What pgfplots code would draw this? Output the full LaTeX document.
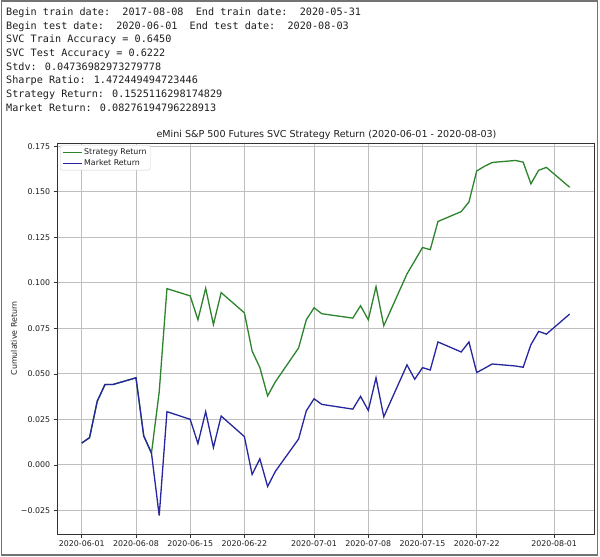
\documentclass[border=0pt]{standalone}
\usepackage{pgfplots}
\pgfplotsset{compat=1.18}
\usepackage{fontspec}
\setmainfont{DejaVu Sans}
\newfontfamily\monofont{DejaVu Sans Mono}
\definecolor{strat}{RGB}{45,132,45}
\definecolor{mkt}{RGB}{38,38,158}
\definecolor{txt}{RGB}{30,30,30}

\pgfplotstableread{
d v
0 0.0120
1 0.0149
2 0.0350
3 0.0441
4 0.0441
7 0.0478
8 0.0159
9 0.0064
10 -0.0279
11 0.0292
14 0.0250
15 0.0117
16 0.0292
17 0.0095
18 0.0268
21 0.0155
22 -0.0053
23 0.0033
24 -0.0119
25 -0.0036
28 0.0142
29 0.0297
30 0.0363
31 0.0332
35 0.0306
36 0.0376
37 0.0299
38 0.0478
39 0.0264
42 0.0549
43 0.0470
44 0.0534
45 0.0521
46 0.0675
49 0.0620
50 0.0675
51 0.0507
52 0.0530
53 0.0554
56 0.0543
57 0.0536
58 0.0660
59 0.0733
60 0.0718
63 0.0828
}\market

\pgfplotstableread{
d v
0 0.0120
1 0.0149
2 0.0350
3 0.0441
4 0.0441
7 0.0478
8 0.0159
9 0.0064
10 0.0401
11 0.0968
14 0.0928
15 0.0797
16 0.0970
17 0.0771
18 0.0946
21 0.0835
22 0.0625
23 0.0534
24 0.0379
25 0.0456
28 0.0642
29 0.0797
30 0.0863
31 0.0830
35 0.0806
36 0.0874
37 0.0797
38 0.0979
39 0.0764
42 0.1049
43 0.1121
44 0.1194
45 0.1182
46 0.1337
49 0.1391
50 0.1444
51 0.1614
52 0.1640
53 0.1661
56 0.1672
57 0.1663
58 0.1544
59 0.1618
60 0.1634
63 0.1525
}\strategy

\begin{document}
\begin{tikzpicture}
\useasboundingbox (0,0) rectangle (600bp,557bp);
\fill[white] (0,0) rectangle (600bp,557bp);
\draw[black!55, line width=1.5bp] (1.7bp,2bp) rectangle (597.3bp,556bp);

% header text
\begin{scope}[every node/.style={anchor=base west, inner sep=0pt, font=\monofont\fontsize{10.2}{12}\selectfont, text=txt}]
\node at (6bp,541.3bp) {Begin train date:~~2017-08-08~~End train date:~~2020-05-31};
\node at (6bp,527.67bp) {Begin test date:~~2020-06-01~~End test date:~~2020-08-03};
\node at (6bp,514.04bp) {SVC Train Accuracy = 0.6450};
\node at (6bp,500.41bp) {SVC Test Accuracy = 0.6222};
\node at (6bp,486.78bp) {Stdv: 0.04736982973279778};
\node at (6bp,473.15bp) {Sharpe Ratio: 1.472449494723446};
\node at (6bp,459.52bp) {Strategy Return: 0.1525116298174829};
\node at (6bp,445.89bp) {Market Return: 0.08276194796228913};
\end{scope}

\node[anchor=base, inner sep=0pt, font=\fontsize{9.6}{11}\selectfont, text=txt] at (326.5bp,419.5bp) {eMini S\&P 500 Futures SVC Strategy Return (2020-06-01 - 2020-08-03)};
\node[rotate=90, inner sep=0pt, font=\fontsize{7.9}{9}\selectfont, text=txt] at (14bp,218.5bp) {Cumulative Return};

\begin{axis}[
  at={(57bp,23bp)}, anchor=south west,
  width=537bp, height=391bp, scale only axis,
  xmin=-3.2, xmax=66.15, ymin=-0.038, ymax=0.1768,
  xtick={0,7,14,21,30,37,44,51,61},
  xticklabels={2020-06-01,2020-06-08,2020-06-15,2020-06-22,2020-07-01,2020-07-08,2020-07-15,2020-07-22,2020-08-01},
  ytick={-0.025,0,0.025,0.05,0.075,0.1,0.125,0.15,0.175},
  yticklabels={−0.025,0.000,0.025,0.050,0.075,0.100,0.125,0.150,0.175},
  /pgf/number format/assume math mode=true,
  grid=major,
  major grid style={black!25, line width=0.7bp},
  axis line style={black!80, line width=0.8bp},
  tick align=outside, major tick length=3.5bp,
  tick style={black!80, line width=0.6bp},
  xtick pos=left, ytick pos=left,
  ticklabel style={font=\fontsize{7.9}{9}\selectfont, text=txt, inner sep=0pt},
  xticklabel style={anchor=north, yshift=-3.3bp},
  yticklabel style={anchor=east, xshift=-3.2bp},
  legend style={at={(0.0056,0.995)}, anchor=north west, draw=black!20, rounded corners=2bp, fill=white,
    font=\fontsize{7.9}{9}\selectfont, inner xsep=2bp, inner ysep=1.5bp, row sep=0pt,
    nodes={inner sep=1.7bp, text height=5.9bp, text depth=1.7bp, text=txt}},
  legend cell align=left,
  legend image code/.code={\draw[#1] (0bp,0bp) -- (19bp,0bp);},
]
\addplot[strat, line width=1.3bp] table[x=d, y=v] {\strategy};
\addlegendentry{Strategy Return}
\addplot[mkt, line width=1.3bp] table[x=d, y=v] {\market};
\addlegendentry{Market Return}
\end{axis}
\end{tikzpicture}
\end{document}
